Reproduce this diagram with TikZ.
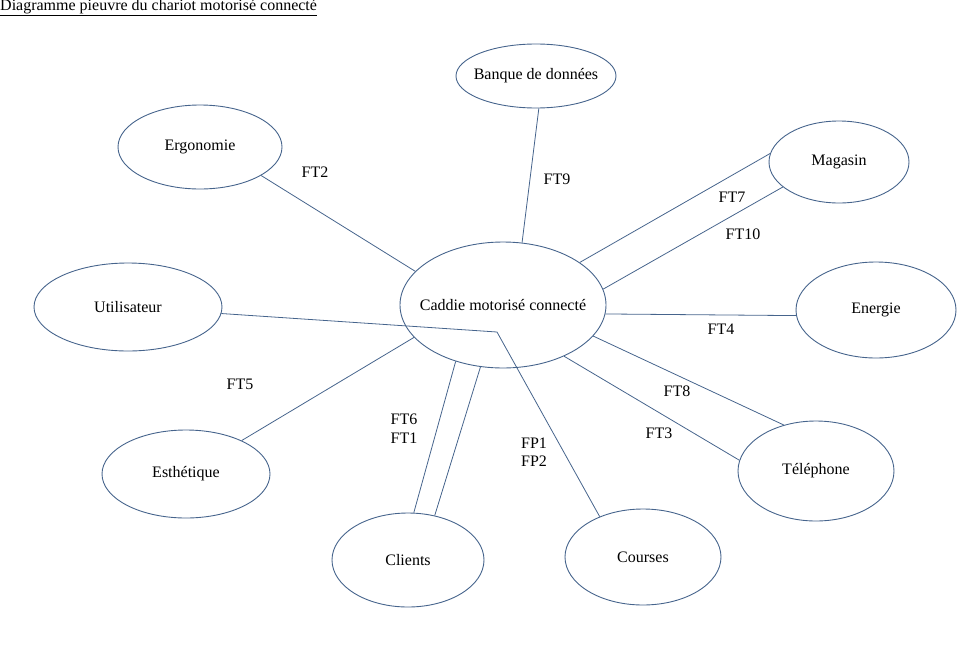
\documentclass[tikz,border=0pt]{standalone}
\usepackage{fontspec}
\setmainfont{Liberation Serif}
\usepackage{tikz}
\usetikzlibrary{shapes.geometric}
\definecolor{trait}{RGB}{70,100,140}

\begin{document}
\begin{tikzpicture}[x=1pt,y=-1pt,font=\fontsize{16}{18.5}\selectfont]
      \useasboundingbox (0,0) rectangle (975,651);
      \tikzset{bulle/.style={draw=trait, line width=0.9pt, ellipse, inner ysep=0pt, inner xsep=-20pt},
        lien/.style={draw=trait, line width=0.8pt}}
      \node (titre) at (0,8) [anchor=west, inner sep=0pt] {\underline{Diagramme pieuvre du chariot motorisé connecté}};
      \node (caddie) at (503,305) [bulle, minimum width=206pt, minimum height=126pt] {Caddie motorisé connecté};
      \node (banque) at (536,76)  [bulle, minimum width=160pt, minimum height=64pt] {Banque de données};
      \node (ergo) at (200,147)  [bulle, minimum width=164pt, minimum height=84pt] {Ergonomie};
      \node (magasin) at (839,162)  [bulle, minimum width=140pt, minimum height=82pt] {Magasin};
      \node (util) at (128,307)  [bulle, minimum width=188pt, minimum height=88pt] {Utilisateur};
      \node (energie) at (876,310)  [bulle, minimum width=160pt, minimum height=96pt] {Energie};
      \node (esth) at (186,474)  [bulle, minimum width=168pt, minimum height=88pt] {Esthétique};
      \node (tel) at (816,471)  [bulle, minimum width=156pt, minimum height=100pt] {Téléphone};
      \node (clients) at (408,560)  [bulle, minimum width=152pt, minimum height=94pt] {Clients};
      \node (courses) at (643,557)  [bulle, minimum width=156pt, minimum height=96pt] {Courses};
      \coordinate (coude) at (497,332);
      \draw[lien]
      (banque.-85) to (caddie.73)
      (ergo.-25) to (caddie.159)
      (magasin.173) to (caddie.29)
      (magasin.-156) to (caddie.9)
      (energie.184) to (caddie.-5)
      (tel.125) to (caddie.-19)
      (tel.172) to (caddie.-40)
      (util.-4) to (coude) to (courses.137)
      (esth.31) to (caddie.200)
      (clients.83) to (caddie.230)
      (clients.59) to (caddie.250);
      \node (ft2) at (315,172) {FT2};
      \node (ft9) at (557,179) {FT9};
      \node (ft7) at (732,197) {FT7};
      \node (ft10) at (743,234) {FT10};
      \node (ft4) at (721,329) {FT4};
      \node (ft8) at (677,391) {FT8};
      \node (ft3) at (659,433) {FT3};
      \node (ft5) at (240,384) {FT5};
      \node (ft61) at (404,428.5) [align=center, inner sep=0pt] {FT6\\FT1};
      \node (fp12) at (534,452) [align=center, inner sep=0pt] {FP1\\FP2};
\end{tikzpicture}
\end{document}
